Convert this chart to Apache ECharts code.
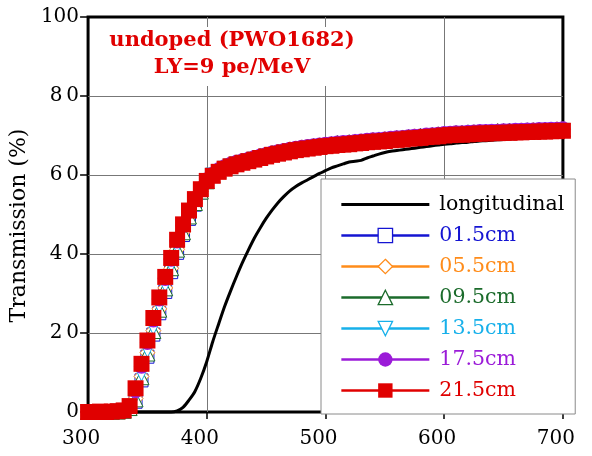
<!DOCTYPE html>
<html>
<head>
<meta charset="utf-8">
<script src="https://cdn.jsdelivr.net/npm/echarts@6/dist/echarts.min.js"></script>
<style>
  html, body { margin: 0; padding: 0; background: #fff; }
  #chart { width: 592px; height: 456px; }
</style>
</head>
<body>
<div id="chart"></div>
<script>
// Wavelength grid (nm)
const wavelength = [
  300, 305, 310, 315, 320, 325, 330, 335, 340, 345,
  350, 355, 360, 365, 370, 375, 380, 385, 390, 395,
  400, 405, 410, 415, 420, 425, 430, 435, 440, 445,
  450, 455, 460, 465, 470, 475, 480, 485, 490, 495,
  500, 505, 510, 515, 520, 525, 530, 535, 540, 545,
  550, 555, 560, 565, 570, 575, 580, 585, 590, 595,
  600, 605, 610, 615, 620, 625, 630, 635, 640, 645,
  650, 655, 660, 665, 670, 675, 680, 685, 690, 695,
  700
];

// Longitudinal transmission (%)
const longitudinal = [
  0, 0, 0, 0, 0, 0, 0, 0, 0, 0,
  0, 0, 0, 0, 0, 0.3, 1.2, 3.0, 5.2, 8.6,
  12.8, 17.8, 22.3, 26.7, 30.6, 34.3, 37.8, 41.0, 44.0, 46.6,
  49.0, 51.1, 53.0, 54.6, 56.0, 57.1, 58.0, 58.8, 59.6, 60.4,
  61.1, 61.8, 62.3, 62.8, 63.3, 63.5, 63.7, 64.3, 64.8, 65.3,
  65.7, 66.0, 66.2, 66.4, 66.6, 66.8, 67.0, 67.2, 67.4, 67.6,
  67.8, 67.9, 68.1, 68.2, 68.3, 68.5, 68.6, 68.7, 68.8, 68.9,
  69.0, 69.1, 69.2, 69.3, 69.4, 69.5, 69.5, 69.6, 69.7, 69.8,
  69.8
];

// Transverse transmission (%) at each position along the crystal
const t01_5 = [
  0.0, 0.0, 0.0, 0.0, 0.1, 0.1, 0.2, 0.8, 2.6, 8.0,
  14.0, 19.6, 25.0, 30.4, 35.4, 40.3, 44.8, 48.9, 52.5, 55.6,
  58.3, 60.0, 60.9, 61.7, 62.3, 62.8, 63.2, 63.6, 64.0, 64.4,
  64.8, 65.2, 65.5, 65.8, 66.1, 66.4, 66.6, 66.8, 67.0, 67.2,
  67.4, 67.5, 67.7, 67.8, 67.9, 68.1, 68.2, 68.4, 68.5, 68.6,
  68.7, 68.9, 69.0, 69.1, 69.3, 69.4, 69.5, 69.7, 69.8, 69.9,
  70.1, 70.2, 70.3, 70.3, 70.4, 70.5, 70.6, 70.6, 70.7, 70.7,
  70.8, 70.8, 70.9, 70.9, 71.0, 71.0, 71.1, 71.1, 71.2, 71.2,
  71.3
];
const t05_5 = [
  0.0, 0.0, 0.1, 0.0, 0.1, 0.2, 0.3, 1.0, 3.4, 9.0,
  15.0, 20.6, 26.1, 31.4, 36.4, 41.2, 45.6, 49.6, 52.9, 55.8,
  58.3, 59.9, 61.2, 62.0, 62.7, 63.1, 63.6, 63.9, 64.4, 64.7,
  65.2, 65.5, 65.9, 66.1, 66.5, 66.7, 67.0, 67.1, 67.4, 67.5,
  67.7, 67.9, 68.0, 68.2, 68.2, 68.5, 68.5, 68.7, 68.9, 68.9,
  69.1, 69.2, 69.4, 69.4, 69.6, 69.8, 69.8, 70.0, 70.2, 70.2,
  70.4, 70.5, 70.6, 70.7, 70.7, 70.8, 70.9, 71.0, 71.0, 71.1,
  71.1, 71.2, 71.2, 71.3, 71.3, 71.4, 71.4, 71.5, 71.5, 71.6,
  71.6
];
const t09_5 = [
  0.0, 0.0, 0.0, 0.1, 0.1, 0.1, 0.3, 1.0, 3.2, 8.8,
  14.8, 20.5, 25.9, 31.3, 36.4, 41.1, 45.5, 49.5, 52.9, 55.8,
  58.4, 60.0, 61.1, 62.0, 62.6, 63.1, 63.5, 63.9, 64.3, 64.8,
  65.1, 65.5, 65.8, 66.2, 66.4, 66.7, 66.9, 67.2, 67.3, 67.5,
  67.7, 67.8, 68.1, 68.1, 68.3, 68.4, 68.5, 68.7, 68.8, 69.0,
  69.0, 69.2, 69.3, 69.5, 69.6, 69.7, 69.9, 70.0, 70.1, 70.3,
  70.4, 70.5, 70.6, 70.6, 70.8, 70.8, 70.9, 70.9, 71.0, 71.1,
  71.1, 71.2, 71.2, 71.2, 71.3, 71.3, 71.4, 71.5, 71.5, 71.5,
  71.6
];
const t13_5 = [
  0.0, 0.0, 0.0, 0.0, 0.1, 0.2, 0.3, 1.1, 4.0, 9.6,
  15.6, 21.3, 26.8, 32.1, 37.1, 41.9, 46.2, 50.1, 53.3, 56.0,
  58.4, 60.0, 60.9, 61.7, 62.3, 62.8, 63.2, 63.6, 64.0, 64.4,
  64.8, 65.2, 65.5, 65.8, 66.1, 66.4, 66.6, 66.8, 67.0, 67.2,
  67.4, 67.5, 67.7, 67.8, 67.9, 68.1, 68.2, 68.4, 68.5, 68.6,
  68.7, 68.9, 69.0, 69.1, 69.3, 69.4, 69.5, 69.7, 69.8, 69.9,
  70.1, 70.2, 70.3, 70.3, 70.4, 70.5, 70.6, 70.6, 70.7, 70.7,
  70.8, 70.8, 70.9, 70.9, 71.0, 71.0, 71.1, 71.1, 71.2, 71.2,
  71.3
];
const t17_5 = [
  0.0, 0.0, 0.0, 0.1, 0.1, 0.2, 0.4, 1.3, 5.4, 11.6,
  17.6, 23.3, 28.6, 33.8, 38.7, 43.3, 47.3, 50.9, 53.9, 56.5,
  58.8, 60.2, 61.3, 62.1, 62.7, 63.2, 63.6, 64.0, 64.4, 64.8,
  65.2, 65.6, 65.9, 66.2, 66.5, 66.8, 67.0, 67.2, 67.4, 67.6,
  67.8, 67.9, 68.1, 68.2, 68.3, 68.5, 68.6, 68.8, 68.9, 69.0,
  69.1, 69.3, 69.4, 69.5, 69.7, 69.8, 69.9, 70.1, 70.2, 70.3,
  70.5, 70.6, 70.7, 70.7, 70.8, 70.9, 71.0, 71.0, 71.1, 71.1,
  71.2, 71.2, 71.3, 71.3, 71.4, 71.4, 71.5, 71.5, 71.6, 71.6,
  71.7
];
const t21_5 = [
  0.0, 0.0, 0.1, 0.0, 0.1, 0.2, 0.4, 1.5, 6.0, 12.2,
  18.1, 23.8, 29.0, 34.2, 39.0, 43.6, 47.5, 51.0, 53.9, 56.4,
  58.5, 59.8, 60.8, 61.6, 62.2, 62.7, 63.1, 63.5, 63.9, 64.3,
  64.7, 65.1, 65.4, 65.7, 66.0, 66.3, 66.5, 66.7, 66.9, 67.1,
  67.3, 67.4, 67.6, 67.7, 67.8, 68.0, 68.1, 68.3, 68.4, 68.5,
  68.6, 68.8, 68.9, 69.0, 69.2, 69.3, 69.4, 69.6, 69.7, 69.8,
  70.0, 70.1, 70.2, 70.2, 70.3, 70.4, 70.5, 70.5, 70.6, 70.6,
  70.7, 70.7, 70.8, 70.8, 70.9, 70.9, 71.0, 71.0, 71.1, 71.1,
  71.2
];

const xTicks = [300, 400, 500, 600, 700];
const yTicks = [0, 20, 40, 60, 80, 100];

const FONT = "'DejaVu Serif', serif";

// Appearance of each transverse series
const positionStyles = [
  { name: '01.5cm', values: t01_5, color: '#1414d2', symbol: 'rect',     size: 13, hollow: true },
  { name: '05.5cm', values: t05_5, color: '#ff8c1a', symbol: 'diamond',  size: 15, hollow: true },
  { name: '09.5cm', values: t09_5, color: '#1b6b2b', symbol: 'triangle', size: 15, hollow: true },
  { name: '13.5cm', values: t13_5, color: '#17b0ea', symbol: 'triangle', size: 14, hollow: true, rotate: 180 },
  { name: '17.5cm', values: t17_5, color: '#9b1bd8', symbol: 'circle',   size: 15, hollow: false },
  { name: '21.5cm', values: t21_5, color: '#e00000', symbol: 'rect',     size: 16, hollow: false }
];

const pairs = (vals) => wavelength.map((w, i) => [w, vals[i]]);

const series = [{
  name: 'longitudinal',
  type: 'line',
  data: pairs(longitudinal),
  symbol: 'none',
  smooth: 0.3,
  clip: false,
  color: '#000',
  lineStyle: { color: '#000', width: 3 }
}];

positionStyles.forEach(p => {
  series.push({
    name: p.name,
    type: 'line',
    data: pairs(p.values),
    symbol: p.symbol,
    symbolSize: p.size,
    symbolRotate: p.rotate || 0,
    clip: false,
    color: p.color,
    lineStyle: { color: p.color, width: 1.5 },
    itemStyle: p.hollow
      ? { color: '#fff', borderColor: p.color, borderWidth: 1 }
      : { color: p.color, borderWidth: 0 }
  });
});

const legendData = [{
  name: 'longitudinal',
  icon: 'path://M0 0H88V3H0Z',
  textStyle: { color: '#000' }
}].concat(positionStyles.map(p => ({
  name: p.name,
  textStyle: { color: p.color },
  itemStyle: p.hollow ? { borderWidth: 1.3 } : {}
})));

const chart = echarts.init(document.getElementById('chart'), null, { renderer: 'canvas' });
chart.setOption({
  animation: false,
  backgroundColor: '#fff',
  title: {
    text: 'undoped (PWO1682)\nLY=9 pe/MeV',
    left: 222,
    top: 27,
    textAlign: 'center',
    backgroundColor: '#fff',
    padding: [0, 10, 5, 10],
    textStyle: {
      fontFamily: FONT, fontWeight: 'bold', fontSize: 21, lineHeight: 27, color: '#e00000'
    }
  },
  grid: {
    left: 86, right: 16, top: 17, bottom: 44,
    show: true, borderColor: '#000', borderWidth: 3, backgroundColor: 'transparent'
  },
  legend: {
    orient: 'vertical',
    left: 321,
    top: 179,
    padding: [15, 11, 13, 19],
    itemWidth: 88,
    itemHeight: 18,
    itemGap: 10,
    backgroundColor: '#fff',
    borderColor: '#8a8a8a',
    borderWidth: 1,
    borderRadius: 0,
    selectedMode: false,
    lineStyle: { width: 2.7 },
    textStyle: { fontFamily: FONT, fontSize: 20.5, lineHeight: 18, padding: [0, 0, 0, 5] },
    data: legendData
  },
  xAxis: {
    type: 'value',
    min: xTicks[0],
    max: xTicks[xTicks.length - 1],
    interval: 100,
    axisLine: { show: false },
    axisTick: { show: true, inside: false, length: 7, lineStyle: { color: '#000', width: 1.5 } },
    axisLabel: {
      fontFamily: FONT, fontSize: 20, lineHeight: 20, color: '#000', margin: 17,
      padding: [0, 14, 0, 0]
    },
    splitLine: { show: true, showMinLine: false, showMaxLine: false, lineStyle: { color: '#777', width: 1 } }
  },
  yAxis: {
    type: 'value',
    min: yTicks[0],
    max: yTicks[yTicks.length - 1],
    interval: 20,
    name: 'Transmission (%)',
    nameLocation: 'middle',
    nameGap: 47,
    nameTextStyle: { fontFamily: FONT, fontSize: 22, color: '#000', padding: [0, 22, 0, 0] },
    axisLine: { show: false },
    axisTick: { show: true, inside: false, length: 8, lineStyle: { color: '#000', width: 1.5 } },
    axisLabel: {
      fontFamily: FONT, fontSize: 20, color: '#000', margin: 9,
      formatter: v => (v >= 10 && v < 100) ? String(v).split('').join('\u2009') : String(v)
    },
    splitLine: { show: true, showMinLine: false, showMaxLine: false, lineStyle: { color: '#777', width: 1 } }
  },
  series: series
});
</script>
</body>
</html>
